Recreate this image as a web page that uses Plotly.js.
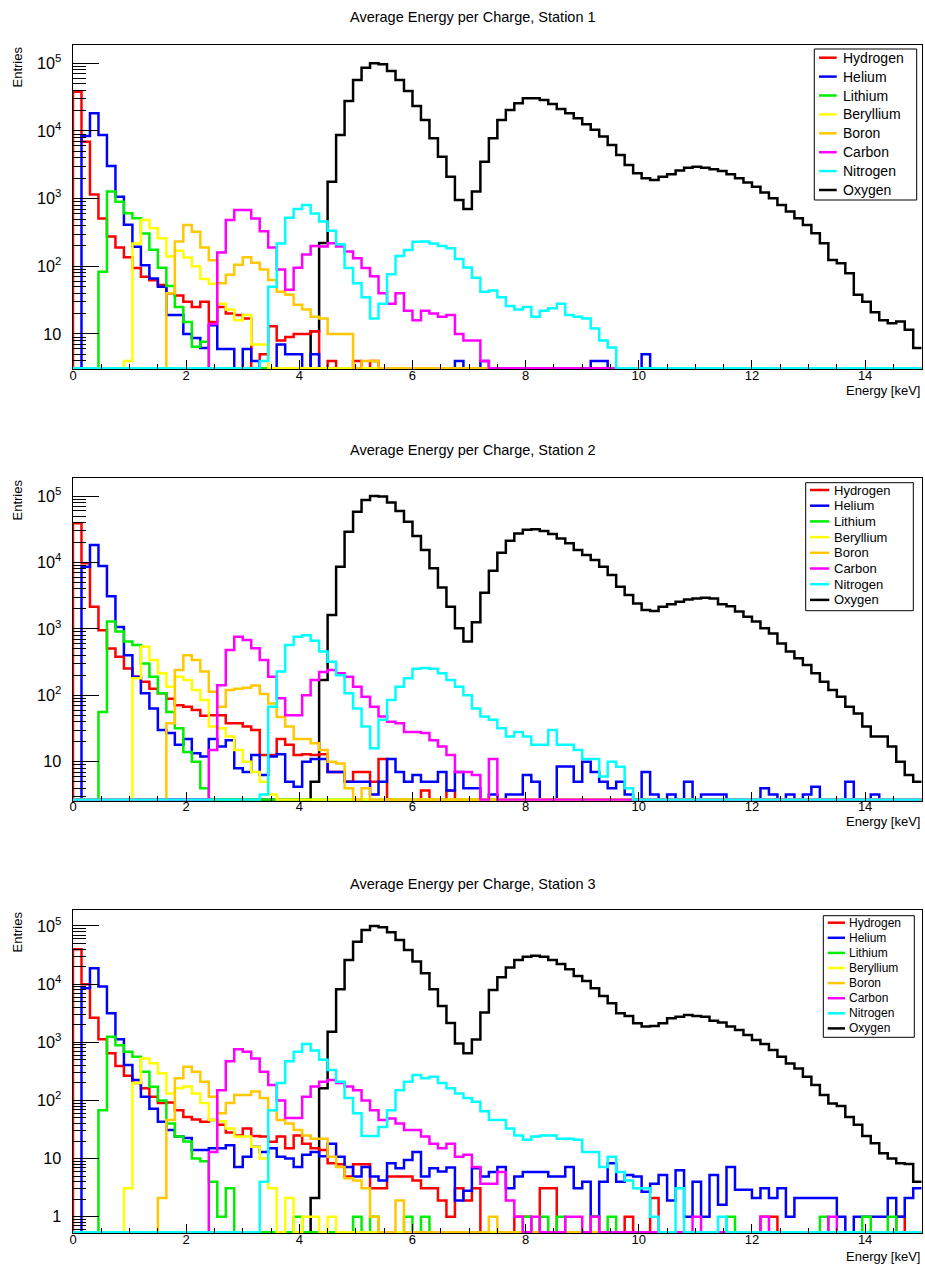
<!DOCTYPE html>
<html><head><meta charset="utf-8">
<script src="https://cdn.plot.ly/plotly-3.0.1.min.js"></script>
<style>html,body{margin:0;padding:0;background:#fff}#chart{width:925px;height:1267px}</style>
</head><body><div id="chart"></div>
<script>
// ---------------- data ----------------
const energyMin = 0, energyMax = 15, binWidth = 0.15;
const speciesNames = ["Hydrogen","Helium","Lithium","Beryllium","Boron","Carbon","Nitrogen","Oxygen"];
const speciesColors = ["#ff0000","#0000ff","#00ee00","#ffff00","#ffc800","#ff00ff","#00ffff","#000000"];
const stationTitles = ["Average Energy per Charge, Station 1","Average Energy per Charge, Station 2","Average Energy per Charge, Station 3"];
const xTickLabels = ["0","2","4","6","8","10","12","14"];

// Station 1 (bin contents, 0.15 keV bins starting at 0)
const s1Hydrogen = [
38000,6900,1150,510,276,190,136,94,70,62,
53,40,37,30,25,30,15,25,20,19,
17,0,5,13,8,9,10,10,11,0,
4,0,0,4,0,4];
const s1Helium = [
0,8400,18200,8700,3040,1070,410,195,104,66,
50,19,19,10,8.7,6.2,13.5,6,6,0,
6,4,0,0,7,5,5,0,5,0,
0,0,0,0,0,0,0,0,0,0,
0,0,0,0,0,4,0,0,4,0,
0,0,0,0,0,0,0,0,0,0,
0,4,4,0,0,0,0,5];
const s1Lithium = [
0,0,0,83,1270,900,610,513,306,175,
95,51,25,15,6.5,7.7];
const s1Beryllium = [
0,0,0,0,0,0,4,218,484,365,
260,140,170,135,100,65,55,28,23,16,
19,7,7];
const s1Boron = [
0,0,0,0,0,0,0,0,0,0,
0,40,232,408,325,190,123,56,75,105,
136,113,90,63,42,38,27,23,18,17,
10,10,10,0,4,4];
const s1Carbon = [
0,0,0,0,0,0,0,0,0,0,
0,0,0,0,0,0,14,160,484,680,
680,510,330,190,90,45,95,150,200,196,
219,196,166,131,94,71,40,28,40,22,
16,22,20,18,19,10,8,8,4];
const s1Nitrogen = [
0,0,0,0,0,0,0,0,0,0,
0,0,0,0,0,0,0,0,0,0,
0,0,4,50,218,520,700,805,605,458,
335,212,94,56,35,17,28,76,142,174,
230,232,218,200,185,128,96,68,42,44,
35,26,23,25,18,22,24,28,19,18,
17,12,8,6.3];
const s1Oxygen = [
0,0,0,0,0,0,0,0,0,0,
0,0,0,0,0,0,0,0,0,0,
0,0,0,0,0,0,0,0,11,220,
1780,8700,27700,56600,86000,100000,96700,77000,56600,39000,
23400,14500,7800,4170,2110,955,705,1270,3520,7800,
14500,20400,25600,30400,30400,28700,25000,21100,18200,15400,
12600,10400,8250,6200,4420,3150,2370,2000,1890,2110,
2290,2600,2870,2970,2870,2720,2570,2290,2000,1730,
1500,1230,1010,807,643,513,409,308,219,124,
111,79,38,30,21,16,14.4,15.3,11.5,6.2];

// Station 2
const s2Hydrogen = [
38800,9700,2150,955,508,381,254,190,160,126,
107,89,71,67,60,49,50,50,38,38,
34,30,12.6,12.6,22,18,12.6,13,12.6,13,
7,7,5,7,7,5,11,0,0,0,
0,3.7,0,0,3.7];
const s2Helium = [
0,8630,18300,8850,3100,1070,400,190,107,63,
30,27,18,22,13.4,12,22,17,21,8,
7,12.6,6.3,12,13,5,4.2,10,11,11,
7,7,5,5,5,3.2,5,11,7,5,
6.3,5,5,7,3.7,7,4,4,0,3.2,
0,3.2,3.2,6.3,5,0,0,8.5,8.5,5,
10,7,5,4,5,3.2,0,7,3.2,0,
3.2,0,5,0,3.2,3.2,3.2,0,0,0,
0,4,3.2,0,3.2,0,3.2,4.2,0,0,
0,5,0,0,3.2];
const s2Lithium = [
0,0,0,56,1290,910,645,570,302,190,
107,56,32,14,10,4];
const s2Beryllium = [
0,0,0,0,0,0,0,180,540,340,
215,135,190,170,120,85,34,32,24,15,
10,7,5,3.2];
const s2Boron = [
0,0,0,0,0,0,0,0,0,0,
0,38,240,400,340,228,113,67,120,125,
130,140,105,75,47,34,22,22,19,15,
10,9.4,4,0,4];
const s2Carbon = [
0,0,0,0,0,0,0,0,0,0,
0,0,0,0,0,0,15,142,480,760,
680,510,340,190,90,50,50,100,170,225,
240,215,190,135,95,67,48,40,38,28,
28,27,21,17,12.6,7,7,6.3,0,11];
const s2Nitrogen = [
0,0,0,0,0,0,0,0,0,0,
0,0,0,0,0,0,0,0,0,0,
0,0,3.2,67,228,570,760,800,660,455,
320,200,107,63,34,16,43,85,135,180,
250,258,250,215,170,135,100,63,48,43,
32,24,28,24,18,18,30,18,18,15,
11,11,6,10,8.4,4];
const s2Oxygen = [
0,0,0,0,0,0,0,0,0,0,
0,0,0,0,0,0,0,0,0,0,
0,0,0,0,0,0,0,0,5,170,
1620,8650,29000,58000,87000,100000,98000,80000,59500,41000,
25000,15400,8200,4200,2150,1020,645,1255,3500,7500,
14000,21300,27400,31000,31500,29700,26800,23000,19400,15400,
13000,10900,8650,6450,4320,3230,2420,1920,1860,2150,
2350,2560,2770,2870,2940,2870,2350,2200,1820,1520,
1290,1020,850,600,455,360,285,215,160,120,
95,67,53,34,24,24,17,10,6.3,5];

// Station 3
const s3Hydrogen = [
39700,10000,2630,1130,645,390,267,200,162,116,
90,92,68,52,47,43,46,38,28,25,
33,24.5,24,19.5,24,15,25,18,15,14,
8.3,8,4.9,8,8,3.1,3.1,4.9,4.9,4.9,
4.2,3.1,3.1,1.9,1,3.1,1.9,3.1,0,0,
0,0,1,1,0,3.1,3.1,0,0,0,
0,1,0,0,0,1,0,0,2.1,0,
0,0,0,0,0,0,0,0,0,0,
0,1,1,0,0,0,0,0,0,0,
0,0,0,0,0,0,0,1];
const s3Helium = [
0,8500,18700,9100,3160,1130,405,225,116,72,
43,31,24,22.5,14,14,15,15,17,7.2,
10.7,16,13,15,10.7,10,7.2,11.6,13,11,
18,10.7,7.2,4.9,7.2,4.9,4.2,8.3,6.8,9.5,
13,4.9,6.8,6,7,1.9,2.8,6.8,4.9,5.9,
7.2,3.1,4.9,5.9,5.9,5.9,4.9,4.9,7.2,3.1,
4,1,4,8.3,4,5.2,4.9,2.7,3.7,5.2,
1.9,6.3,1,4,1,5.2,1.6,7.2,2.9,2.9,
2.1,3.1,2.1,3.1,1,2.1,2.1,2.1,2.1,2.1,
1,0,1,1,1,1,2.1,1,2.1,3.1];
const s3Lithium = [
0,0,0,68,1250,890,690,565,310,172,
100,40,24,19.6,10,9,4,1,3.1,0,
0,0,0,0,0,0,1,0,0,0,
0,0,0,1,0,1,0,0,0,1,
0,1,0,0,0,0,0,0,0,0,
0,0,0,1,0,1,0,1,0,0,
0,1,0,1,0,0,0,0,0,0,
0,0,0,0,0,0,0,1,0,0,
0,0,0,0,0,0,0,0,1,0,
0,0,0,1,0,0,1];
const s3Beryllium = [
0,0,0,0,0,0,3.1,200,525,435,
293,131,162,173,131,90,46,44,33,24,
24,16,10,3.1,0,2.1,0,1,1,0,
1];
const s3Boron = [
0,0,0,0,0,0,0,0,0,0,
2.1,46,240,380,310,210,116,60,90,124,
124,142,110,68,46,40,31,25,22,22,
10.7,7.2,4.6,4.2,3.1,1,0,0,1.9,0,
0,0,0,0,0,0,0,0,0,1];
const s3Carbon = [
0,0,0,0,0,0,0,0,0,0,
0,0,0,0,0,0,13,150,470,760,
690,525,310,185,100,50,50,116,173,210,
225,200,173,150,100,68,46,49,40,31,
31,24,18,15,18,10.7,11.6,7.2,3.7,3.7,
5.9,1.9,1,0,1,0,0,0,1,1,
0,1,0,0,0,0,0,0,0,0,
0,0,0,1,0,0,0,0,0,0,
0,1,0,0,0,0,0,0,0,1];
const s3Nitrogen = [
0,0,0,0,0,0,0,0,0,0,
0,0,0,0,0,0,0,0,0,0,
0,0,4,68,200,470,690,935,720,500,
335,210,110,60,24.5,24.5,35,68,150,210,
275,240,255,200,162,131,110,95,65,46,
46,33,25,21,24,25,25,22,22,21,
13,13,7.2,10.7,5.9,4.2,3.1,3.1,1,0,
0,3.1,0,0,0,0,1];
const s3Oxygen = [
0,0,0,0,0,0,0,0,0,0,
0,0,0,0,0,0,0,0,0,0,
0,0,0,0,0,0,0,0,2.1,162,
1520,8150,26000,53700,85500,100000,95000,78000,57500,38600,
24400,15400,8150,4200,2150,950,645,1120,3240,7950,
13100,19400,26000,29600,30800,29600,26000,22200,18000,13800,
11300,8500,6250,4700,3150,2820,2130,1870,1910,2130,
2590,2760,2940,2820,2760,2340,2180,1870,1630,1335,
1100,935,735,565,433,355,256,184,124,89,
80,52,38,24.5,18.3,12.3,10,8.3,8.1,4];

const stations = [
  [s1Hydrogen,s1Helium,s1Lithium,s1Beryllium,s1Boron,s1Carbon,s1Nitrogen,s1Oxygen],
  [s2Hydrogen,s2Helium,s2Lithium,s2Beryllium,s2Boron,s2Carbon,s2Nitrogen,s2Oxygen],
  [s3Hydrogen,s3Helium,s3Lithium,s3Beryllium,s3Boron,s3Carbon,s3Nitrogen,s3Oxygen]
];

// ---------------- layout geometry (pixels) ----------------
const W = 925, H = 1267;
const plotLeft = 73, plotRight = 921.7;
const panels = [
  {top: 45,    bottom: 369.3,  yRange: [0.478, 5.27],
   legend: {left: 814.3, right: 916.7, top: 49, bottom: 200, row0: 57.7, rowStep: 18.9, lineX: [819, 836.7], textX: 840.7, font: 14},
   titleY: 17,  xTitleY: 391,  entriesTop: 45},
  {top: 478.3, bottom: 800.7,  yRange: [0.413, 5.267],
   legend: {left: 805.7, right: 913.3, top: 482.7, bottom: 610.7, row0: 490, rowStep: 15.7, lineX: [810, 829.3], textX: 832.3, font: 13},
   titleY: 450, xTitleY: 821.5, entriesTop: 478},
  {top: 910,   bottom: 1233.3, yRange: [-0.285, 5.275],
   legend: {left: 823.3, right: 914.3, top: 915.7, bottom: 1037.3, row0: 922.7, rowStep: 15.1, lineX: [827.7, 845], textX: 846.7, font: 12},
   titleY: 884, xTitleY: 1256.5, entriesTop: 910}
];
const FONT = "Liberation Sans, Arial, Helvetica, sans-serif";
const drawOrder = [7,0,1,2,3,4,5,6];
const nBins = Math.round((energyMax - energyMin) / binWidth);
const px = v => v / W;          // horizontal pixel -> paper
const py = v => 1 - v / H;      // vertical pixel -> paper

function stepXY(values, floorVal) {
  const x = [energyMin], y = [floorVal];
  for (let i = 0; i < nBins; i++) {
    const v = values[i] || 0;
    x.push(energyMin + i * binWidth);
    y.push(v > 0 ? v : floorVal);
  }
  x.push(energyMax); y.push(y[y.length - 1]);
  return {x, y};
}

const traces = [];
const layout = {
  width: W, height: H, autosize: false,
  margin: {l: 0, r: 0, t: 0, b: 0, pad: 0},
  paper_bgcolor: "#fff", plot_bgcolor: "#fff",
  font: {family: FONT, color: "#000", size: 13},
  showlegend: false, hovermode: false,
  annotations: [], shapes: []
};

panels.forEach((p, s) => {
  const sfx = s === 0 ? "" : String(s + 1);
  const pxPerDecade = (p.bottom - p.top) / (p.yRange[1] - p.yRange[0]);
  const floorVal = Math.pow(10, p.yRange[0] + 1.0 / pxPerDecade);
  drawOrder.forEach(k => {
    const xy = stepXY(stations[s][k], floorVal);
    traces.push({
      type: "scatter", mode: "lines", x: xy.x, y: xy.y,
      xaxis: "x" + sfx, yaxis: "y" + sfx,
      name: speciesNames[k], showlegend: false,
      line: {shape: "hv", color: speciesColors[k], width: 2.5},
      hoverinfo: "skip"
    });
  });
  layout["xaxis" + sfx] = {
    domain: [px(plotLeft), px(plotRight)], anchor: "y" + sfx,
    range: [energyMin, energyMax], fixedrange: true,
    tickmode: "array", tickvals: xTickLabels.map(Number), ticktext: xTickLabels,
    ticks: "inside", ticklen: 9, tickwidth: 1, tickcolor: "#000",
    minor: {ticks: "inside", ticklen: 5, dtick: 0.5, tickcolor: "#000", showgrid: false},
    showgrid: false, zeroline: false, showline: true, linecolor: "#000", linewidth: 1, mirror: true,
    tickfont: {size: 13, family: FONT}, ticklabelstandoff: -6
  };
  layout["yaxis" + sfx] = {
    domain: [py(p.bottom), py(p.top)], anchor: "x" + sfx,
    type: "log", range: p.yRange, fixedrange: true,
    dtick: 1, exponentformat: "power", showexponent: "all",
    ticks: "inside", ticklen: 26, tickwidth: 1, tickcolor: "#000",
    minor: {ticks: "inside", ticklen: 13, dtick: "D1", tickcolor: "#000", showgrid: false},
    showgrid: false, zeroline: false, showline: true, linecolor: "#000", linewidth: 1, mirror: true,
    tickfont: {size: 13, family: FONT}, ticklabelstandoff: 8
  };

  // legend box (drawn as shapes + text, matching the original compact layout)
  const L = p.legend;
  layout.shapes.push({
    type: "rect", xref: "paper", yref: "paper", layer: "above",
    x0: px(L.left), x1: px(L.right), y0: py(L.bottom), y1: py(L.top),
    line: {color: "#000", width: 1}, fillcolor: "#fff"
  });
  speciesNames.forEach((name, k) => {
    const yc = L.row0 + k * L.rowStep;
    layout.shapes.push({
      type: "line", xref: "paper", yref: "paper", layer: "above",
      x0: px(L.lineX[0]), x1: px(L.lineX[1]), y0: py(yc), y1: py(yc),
      line: {color: speciesColors[k], width: 2.5}
    });
    layout.annotations.push({
      text: name, xref: "paper", yref: "paper",
      x: px(L.textX), y: py(yc), xanchor: "left", yanchor: "middle",
      showarrow: false, font: {size: L.font, family: FONT, color: "#000"}
    });
  });

  layout.annotations.push({
    text: stationTitles[s], xref: "paper", yref: "paper",
    x: px(473), y: py(p.titleY), xanchor: "center", yanchor: "middle",
    showarrow: false, font: {size: 14.5, family: FONT}
  });
  layout.annotations.push({
    text: "Entries", xref: "paper", yref: "paper", textangle: -90,
    x: px(17), y: py(p.entriesTop), xanchor: "center", yanchor: "top",
    showarrow: false, font: {size: 13, family: FONT}
  });
  layout.annotations.push({
    text: "Energy [keV]", xref: "paper", yref: "paper",
    x: px(plotRight), y: py(p.xTitleY), xanchor: "right", yanchor: "middle",
    showarrow: false, font: {size: 13, family: FONT}
  });
});

Plotly.newPlot("chart", traces, layout, {staticPlot: true, displayModeBar: false});
</script>
</body></html>
